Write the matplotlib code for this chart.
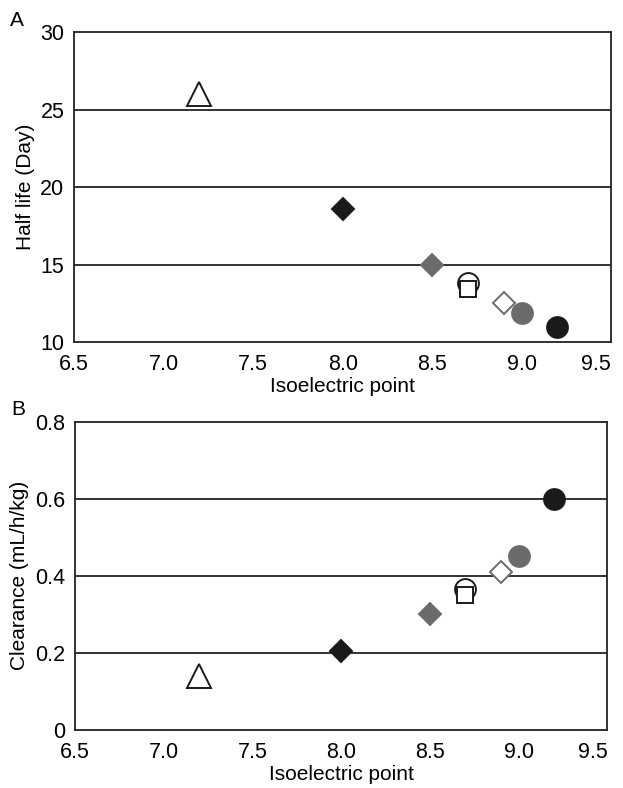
import matplotlib.pyplot as plt

plt.rcParams['font.family'] = ['Liberation Sans', 'DejaVu Sans']

# isoelectric point of each molecule, shared by both panels
pi = [7.2, 8.0, 8.5, 8.7, 8.7, 8.9, 9.0, 9.2]
half_life = [26.0, 18.6, 15.0, 13.8, 13.4, 12.5, 11.9, 11.0]
clearance = [0.14, 0.205, 0.30, 0.365, 0.35, 0.41, 0.45, 0.60]

# marker style for each point
markers = ['^', 'D', 'D', 'o', 's', 'D', 'o', 'o']
faces = ['white', '#1a1a1a', '#6b6b6b', 'white', 'white', 'white', '#6b6b6b', '#1a1a1a']
edges = ['#1a1a1a', '#1a1a1a', '#6b6b6b', '#1a1a1a', '#1a1a1a', '#6b6b6b', '#6b6b6b', '#1a1a1a']
sizes = [17, 11, 11, 15, 12, 11, 15, 15]

fig = plt.figure(figsize=(6.23, 7.88), dpi=100)
ax1 = fig.add_axes([0.119, 0.566, 0.862, 0.393])
ax2 = fig.add_axes([0.120, 0.074, 0.855, 0.391])


def draw(ax, yvals, ylim, yticks, yticklabels, ylabel, tag):
    for yt in yticks[1:-1]:
        ax.axhline(yt, color='#222222', lw=1.3, zorder=1)
    for i in range(len(pi)):
        ax.plot(pi[i], yvals[i], marker=markers[i], ms=sizes[i], mfc=faces[i],
                mec=edges[i], mew=1.4, ls='none', zorder=3 + i)
    ax.set_xlim(6.5, 9.5)
    ax.set_ylim(*ylim)
    ax.set_xticks([6.5, 7.0, 7.5, 8.0, 8.5, 9.0, 9.5])
    ax.set_xticklabels(['6.5', '7.0', '7.5', '8.0', '8.5', '9.0', '9.5'])
    ax.get_xticklabels()[-1].set_horizontalalignment('right')
    ax.set_yticks(yticks)
    ax.set_yticklabels(yticklabels)
    ax.tick_params(length=0, labelsize=15.5)
    ax.tick_params(axis='x', pad=9)
    ax.tick_params(axis='y', pad=7)
    ax.set_xlabel('Isoelectric point', fontsize=15, labelpad=1)
    ax.set_ylabel(ylabel, fontsize=15, labelpad=4)
    for s in ax.spines.values():
        s.set_color('#222222')
        s.set_linewidth(1.3)
    ax.text(-0.12, 1.02, tag, transform=ax.transAxes, fontsize=15)


draw(ax1, half_life, (10, 30), [10, 15, 20, 25, 30],
     ['10', '15', '20', '25', '30'], 'Half life (Day)', 'A')
draw(ax2, clearance, (0, 0.8), [0, 0.2, 0.4, 0.6, 0.8],
     ['0', '0.2', '0.4', '0.6', '0.8'], 'Clearance (mL/h/kg)', 'B')

fig.savefig('out.png', dpi=100)
